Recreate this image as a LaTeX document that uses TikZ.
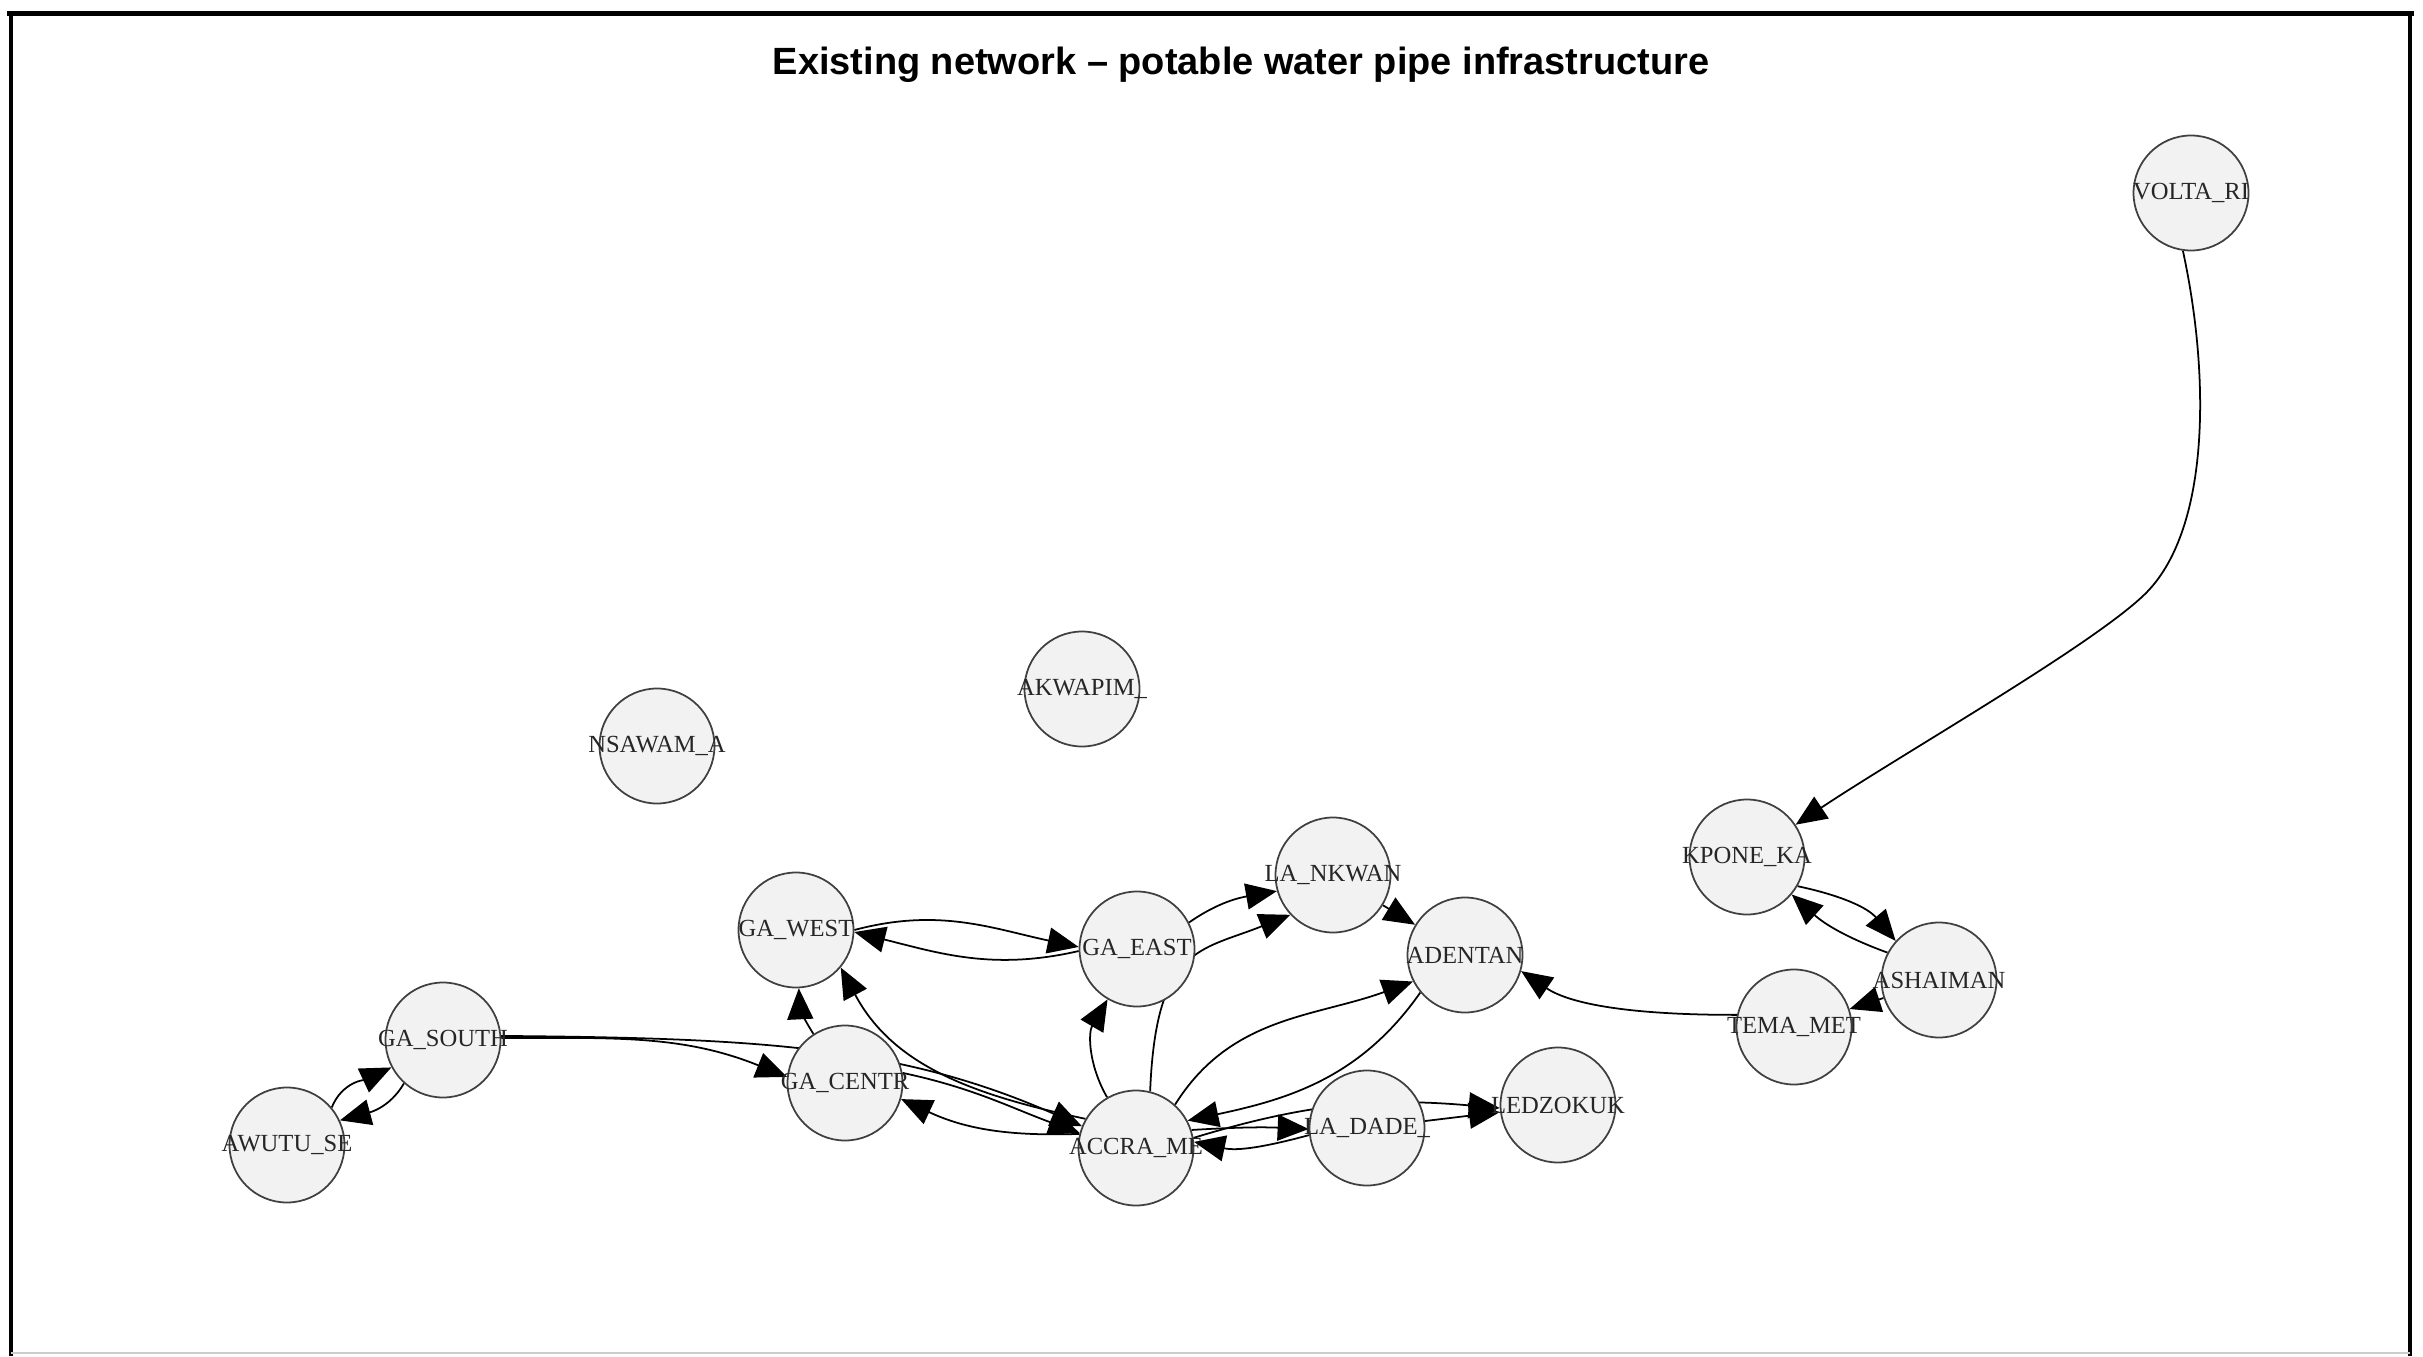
\documentclass[tikz,border=0pt]{standalone}
\usepackage{fontspec}
\setmainfont{Liberation Serif}
\setsansfont{Liberation Sans}
\usepackage{tikz}
\usetikzlibrary{arrows.meta, positioning, backgrounds}

\begin{document}
\begin{tikzpicture}[
  vtx/.style={circle, draw=black!75, fill=black!5, line width=0.5pt,
              minimum size=1.15cm, inner sep=0pt},
  lbl/.style={font=\fontsize{7}{8}\selectfont, text=black!85, inner sep=0pt},
  arr/.style={-{Triangle[length=3.1mm, width=2.6mm]}, line width=0.5pt},
  frm/.style={line width=1.1pt},
  ttl/.style={font=\sffamily\bfseries\fontsize{10.8}{13}\selectfont},
]
\useasboundingbox (0,0) rectangle (24.23,13.56);

% ---- Frame -----------------------------------------------------------------
\draw[frm] (0.11,0) -- (0.11,13.43);
\draw[frm] (24.10,0) -- (24.10,13.43);
\draw[frm, line width=1.7pt] (0.07,13.425) -- (24.14,13.425);
\draw[gray!40, line width=0.6pt] (0.11,0.03) -- (24.10,0.03);

% ---- Title -----------------------------------------------------------------
\node[ttl, anchor=base] (title) at (12.41,12.81)
  {Existing network -- potable water pipe infrastructure};

% ---- Vertices --------------------------------------------------------------
\foreach \n/\x/\y/\t in {
    VOLTA/21.91/11.63/VOLTA\_RI, NSAWAM/6.57/6.10/NSAWAM\_A,
    AKWAPIM/10.82/6.67/AKWAPIM\_, KPONE/17.47/4.99/KPONE\_KA,
    LANKWAN/13.33/4.81/LA\_NKWAN, GAWEST/7.96/4.26/GA\_WEST,
    GAEAST/11.37/4.07/GA\_EAST, ADENTAN/14.65/4.01/ADENTAN,
    ASHAIMAN/19.39/3.76/ASHAIMAN, TEMA/17.94/3.29/TEMA\_MET,
    GASOUTH/4.43/3.16/GA\_SOUTH, GACENTR/8.45/2.73/GA\_CENTR,
    LEDZOKUK/15.58/2.51/LEDZOKUK, LADADE/13.67/2.28/LA\_DADE\_,
    ACCRA/11.36/2.08/ACCRA\_ME, AWUTU/2.87/2.11/AWUTU\_SE}
  \node[vtx, label={[lbl]center:\t}] (\n) at (\x,\y) {};

% ---- Pipes (behind the vertices) -------------------------------------------
\begin{scope}[on background layer]
\draw[arr] (VOLTA.-98) .. controls (22.1,9.8) and (22.1,8.29) .. (21.47,7.64)
  .. controls (20.98,7.14) and (19.05,6.04) .. (KPONE);
\draw[arr] (KPONE.-30) to[out=-12, in=130] (ASHAIMAN.138);
\draw[arr] (ASHAIMAN.152) to[out=160, in=-42] (KPONE.-40);
\draw[arr] (ASHAIMAN) -- (TEMA);
\draw[arr] (TEMA.168) .. controls (16.3,3.41) and (15.7,3.52) .. (ADENTAN.-16);
\draw[arr] (LANKWAN) -- (ADENTAN);
\draw[arr] (GAEAST.27) to[out=35, in=190] (LANKWAN.196);
\draw[arr] (ACCRA.76) .. controls (11.56,4.1) and (12.0,4.05) .. (LANKWAN.-137);
\draw[arr] (ACCRA) to[bend left=30] (GAEAST);
\draw[arr] (ACCRA.48) to[out=58, in=200] (ADENTAN.207);
\draw[arr] (ADENTAN.220) to[out=235, in=12] (ACCRA.28);
\draw[arr] (ACCRA.18) to[bend left=3] (LADADE.181);
\draw[arr] (LADADE.187) to[out=195, in=-12] (ACCRA.6);
\draw[arr] (ACCRA.10) to[out=17, in=175] (LEDZOKUK.183);
\draw[arr] (LADADE) -- (LEDZOKUK);
\draw[arr] (GAWEST.0) to[out=15, in=168] (GAEAST.178);
\draw[arr] (GAEAST.182) to[out=193, in=-14] (GAWEST.-2);
\draw[arr] (GACENTR) to[bend left=15] (GAWEST);
\draw[arr] (ACCRA.150) to[out=168, in=-62] (GAWEST.-40);
\draw[arr] (ACCRA.166) to[out=182, in=-25] (GACENTR.-16);
\draw[arr] (GACENTR.10) to[out=-12, in=160] (ACCRA.165);
\draw[arr] (GASOUTH.2) to[out=0, in=158] (GACENTR.174);
\draw[arr] (GASOUTH.4) .. controls (7.6,3.18) and (9.0,3.1) .. (ACCRA.158);
\draw[arr] (AWUTU.40) to[out=68, in=205] (GASOUTH.208);
\draw[arr] (GASOUTH.228) to[out=240, in=15] (AWUTU.25);
\end{scope}

\end{tikzpicture}
\end{document}
